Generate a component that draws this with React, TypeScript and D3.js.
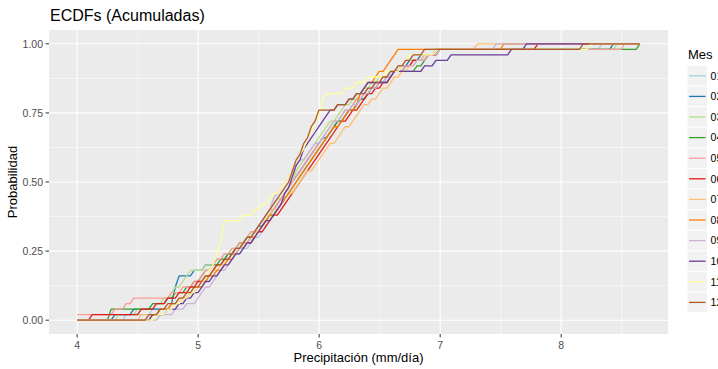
import React from "react";
import * as d3 from "d3";

const months = ["01", "02", "03", "04", "05", "06", "07", "08", "09", "10", "11", "12"];
const colors = ["#A6CEE3", "#1F78B4", "#B2DF8A", "#33A02C", "#FB9A99", "#E31A1C", "#FDBF6F", "#FF7F00", "#CAB2D6", "#6A3D9A", "#FFFF99", "#B15928"];

const m01 = [4.38, 4.62, 4.78, 4.86, 4.93, 4.99, 5.04, 5.09, 5.14, 5.19, 5.24, 5.29, 5.35, 5.41, 5.46, 5.5, 5.54, 5.58, 5.62, 5.65, 5.68, 5.71, 5.74, 5.77, 5.8, 5.83, 5.86, 5.88, 5.91, 5.94, 5.97, 6.0, 6.03, 6.06, 6.1, 6.13, 6.17, 6.21, 6.25, 6.3, 6.35, 6.4, 6.46, 6.52, 6.58, 6.65, 6.74, 6.86, 6.97, 8.33];
const m02 = [4.29, 4.44, 4.78, 4.79, 4.8, 4.81, 4.82, 4.83, 4.95, 5.05, 5.15, 5.23, 5.3, 5.36, 5.41, 5.45, 5.49, 5.53, 5.57, 5.61, 5.64, 5.68, 5.71, 5.74, 5.77, 5.8, 5.83, 5.86, 5.89, 5.92, 5.95, 5.99, 6.02, 6.06, 6.1, 6.14, 6.19, 6.24, 6.29, 6.33, 6.38, 6.43, 6.48, 6.54, 6.6, 6.67, 6.74, 6.83, 6.95, 8.41];
const m03 = [4.33, 4.47, 4.6, 4.7, 4.76, 4.81, 4.85, 4.88, 4.91, 5.06, 5.14, 5.21, 5.27, 5.33, 5.38, 5.43, 5.47, 5.51, 5.55, 5.59, 5.62, 5.65, 5.69, 5.72, 5.75, 5.78, 5.81, 5.84, 5.87, 5.9, 5.93, 5.96, 5.99, 6.02, 6.05, 6.09, 6.13, 6.17, 6.21, 6.26, 6.31, 6.37, 6.43, 6.49, 6.56, 6.63, 6.71, 6.84, 6.96, 8.45];
const m04 = [4.25, 4.27, 4.62, 4.72, 4.8, 4.88, 4.95, 5.01, 5.06, 5.11, 5.16, 5.22, 5.28, 5.34, 5.4, 5.45, 5.5, 5.55, 5.59, 5.63, 5.67, 5.7, 5.73, 5.76, 5.79, 5.82, 5.85, 5.88, 5.91, 5.94, 5.97, 6.0, 6.03, 6.07, 6.11, 6.15, 6.19, 6.23, 6.28, 6.33, 6.38, 6.43, 6.49, 6.55, 6.62, 6.8, 6.85, 6.9, 6.95, 8.65];
const m05 = [4.0, 4.3, 4.4, 4.45, 4.76, 4.86, 4.94, 5.0, 5.05, 5.1, 5.15, 5.21, 5.27, 5.33, 5.38, 5.43, 5.47, 5.51, 5.55, 5.59, 5.63, 5.66, 5.7, 5.73, 5.76, 5.79, 5.82, 5.85, 5.88, 5.91, 5.94, 5.97, 6.0, 6.04, 6.08, 6.12, 6.16, 6.2, 6.25, 6.3, 6.35, 6.41, 6.47, 6.53, 6.6, 6.67, 6.75, 6.87, 6.99, 8.5];
const m06 = [4.11, 4.5, 4.64, 4.74, 4.84, 4.92, 4.99, 5.05, 5.1, 5.15, 5.21, 5.27, 5.33, 5.39, 5.44, 5.49, 5.53, 5.58, 5.62, 5.66, 5.7, 5.73, 5.76, 5.79, 5.82, 5.85, 5.88, 5.91, 5.94, 5.97, 6.0, 6.03, 6.06, 6.1, 6.14, 6.18, 6.22, 6.26, 6.31, 6.35, 6.4, 6.45, 6.5, 6.56, 6.62, 6.69, 6.77, 6.88, 6.99, 7.79];
const m07 = [4.52, 4.66, 4.76, 4.84, 4.91, 4.97, 5.02, 5.07, 5.12, 5.17, 5.22, 5.27, 5.32, 5.37, 5.42, 5.46, 5.5, 5.54, 5.58, 5.62, 5.66, 5.7, 5.74, 5.78, 5.82, 5.86, 5.9, 5.94, 5.97, 6.01, 6.05, 6.09, 6.13, 6.17, 6.21, 6.25, 6.29, 6.33, 6.37, 6.42, 6.47, 6.52, 6.57, 6.62, 6.67, 6.72, 6.78, 6.86, 6.96, 7.3];
const m08 = [4.6, 4.68, 4.77, 4.85, 4.92, 4.98, 5.04, 5.09, 5.14, 5.19, 5.24, 5.29, 5.34, 5.39, 5.43, 5.47, 5.51, 5.55, 5.59, 5.63, 5.67, 5.71, 5.74, 5.77, 5.8, 5.83, 5.86, 5.89, 5.92, 5.95, 5.98, 6.01, 6.04, 6.08, 6.12, 6.16, 6.2, 6.24, 6.28, 6.31, 6.34, 6.37, 6.4, 6.44, 6.48, 6.55, 6.58, 6.6, 6.63, 7.5];
const m09 = [4.67, 4.8, 4.9, 4.97, 5.02, 5.06, 5.1, 5.14, 5.18, 5.22, 5.26, 5.3, 5.34, 5.38, 5.42, 5.45, 5.48, 5.51, 5.54, 5.57, 5.6, 5.62, 5.65, 5.67, 5.7, 5.73, 5.76, 5.8, 5.84, 5.88, 5.92, 5.96, 6.0, 6.04, 6.08, 6.12, 6.16, 6.21, 6.26, 6.31, 6.36, 6.42, 6.48, 6.55, 6.62, 6.7, 6.78, 6.88, 6.97, 7.46];
const m10 = [4.6, 4.72, 4.82, 4.9, 4.96, 5.01, 5.06, 5.11, 5.16, 5.21, 5.26, 5.31, 5.36, 5.4, 5.44, 5.48, 5.52, 5.56, 5.6, 5.63, 5.66, 5.69, 5.71, 5.73, 5.75, 5.77, 5.79, 5.81, 5.83, 5.85, 5.87, 5.89, 5.92, 5.95, 5.98, 6.01, 6.04, 6.08, 6.15, 6.22, 6.3, 6.36, 6.4, 6.58, 6.62, 6.85, 6.95, 7.07, 7.56, 7.69];
const m11 = [4.64, 4.74, 4.8, 4.86, 4.92, 4.98, 5.02, 5.06, 5.09, 5.11, 5.13, 5.15, 5.17, 5.18, 5.19, 5.2, 5.21, 5.21, 5.36, 5.45, 5.52, 5.58, 5.62, 5.66, 5.69, 5.72, 5.75, 5.78, 5.81, 5.84, 5.86, 5.88, 5.9, 5.92, 5.94, 5.96, 5.98, 6.0, 6.01, 6.02, 6.03, 6.21, 6.3, 6.38, 6.55, 6.68, 6.69, 6.72, 6.96, 8.22];
const m12 = [4.58, 4.66, 4.74, 4.82, 4.89, 4.95, 5.0, 5.05, 5.1, 5.15, 5.2, 5.25, 5.3, 5.35, 5.4, 5.44, 5.48, 5.52, 5.56, 5.59, 5.62, 5.65, 5.68, 5.71, 5.73, 5.75, 5.77, 5.79, 5.81, 5.83, 5.85, 5.87, 5.89, 5.91, 5.93, 5.95, 5.97, 5.98, 6.15, 6.22, 6.3, 6.38, 6.45, 6.52, 6.58, 6.64, 6.7, 6.76, 6.84, 8.18];

const seriesValues = [m01, m02, m03, m04, m05, m06, m07, m08, m09, m10, m11, m12];

const xTicks = [4, 5, 6, 7, 8];
const yTicks = [0, 0.25, 0.5, 0.75, 1];
const yTickLabels = ["0.00", "0.25", "0.50", "0.75", "1.00"];

const W = 718;
const H = 369;
const panel = { left: 49, right: 668, top: 30, bottom: 334 };
const FONT = "'Liberation Sans', Arial, Helvetica, sans-serif";

export default function App() {
  const all = seriesValues.flat();
  const xmin = d3.min(all) as number;
  const xmax = d3.max(all) as number;
  const xr = xmax - xmin;
  const x = d3.scaleLinear().domain([xmin - 0.05 * xr, xmax + 0.05 * xr]).range([panel.left, panel.right]);
  const y = d3.scaleLinear().domain([-0.05, 1.05]).range([panel.bottom, panel.top]);

  const nGrid = 150;
  const grid = d3.range(nGrid).map((i) => xmin + (xr * i) / (nGrid - 1));

  const line = d3
    .line<[number, number]>()
    .x((d) => x(d[0]))
    .y((d) => y(d[1]));

  const paths = seriesValues.map((vals) => {
    const s = [...vals].sort((a, b) => a - b);
    const pts: [number, number][] = grid.map((g) => [g, d3.bisectRight(s, g + 1e-9) / s.length]);
    return line(pts) as string;
  });

  const xMinor = [3.5, 4.5, 5.5, 6.5, 7.5, 8.5];
  const yMinor = [0.125, 0.375, 0.625, 0.875];

  const legendTop = 65.5;
  const keyH = 20.6;
  const keyX = 687;
  const keyW = 20.6;

  return (
    <svg width={W} height={H} style={{ position: "absolute", left: 0, top: 0, display: "block" }} fontFamily={FONT}>
      <rect x={0} y={0} width={W} height={H} fill="#ffffff" />
      <defs>
        <clipPath id="pclip">
          <rect x={panel.left} y={panel.top} width={panel.right - panel.left} height={panel.bottom - panel.top} />
        </clipPath>
      </defs>
      <rect x={panel.left} y={panel.top} width={panel.right - panel.left} height={panel.bottom - panel.top} fill="#EBEBEB" />
      <g clipPath="url(#pclip)">
        {xMinor.map((v) => (
          <line key={"xm" + v} x1={x(v)} x2={x(v)} y1={panel.top} y2={panel.bottom} stroke="#fff" strokeWidth={0.55} />
        ))}
        {yMinor.map((v) => (
          <line key={"ym" + v} x1={panel.left} x2={panel.right} y1={y(v)} y2={y(v)} stroke="#fff" strokeWidth={0.55} />
        ))}
        {xTicks.map((v) => (
          <line key={"xg" + v} x1={x(v)} x2={x(v)} y1={panel.top} y2={panel.bottom} stroke="#fff" strokeWidth={1.1} />
        ))}
        {yTicks.map((v) => (
          <line key={"yg" + v} x1={panel.left} x2={panel.right} y1={y(v)} y2={y(v)} stroke="#fff" strokeWidth={1.1} />
        ))}
        {paths.map((p, i) => (
          <path key={"s" + i} d={p} fill="none" stroke={colors[i]} strokeWidth={1.3} strokeLinejoin="round" />
        ))}
      </g>
      {xTicks.map((v) => (
        <g key={"xt" + v}>
          <line x1={x(v)} x2={x(v)} y1={panel.bottom} y2={panel.bottom + 3.5} stroke="#333" strokeWidth={1} />
          <text x={x(v)} y={panel.bottom + 14.5} textAnchor="middle" fontSize={10.5} fill="#4D4D4D">
            {v}
          </text>
        </g>
      ))}
      {yTicks.map((v, i) => (
        <g key={"yt" + v}>
          <line x1={panel.left - 3.5} x2={panel.left} y1={y(v)} y2={y(v)} stroke="#333" strokeWidth={1} />
          <text x={panel.left - 6} y={y(v) + 3.7} textAnchor="end" fontSize={10.5} fill="#4D4D4D">
            {yTickLabels[i]}
          </text>
        </g>
      ))}
      <text x={50} y={20.5} fontSize={16} fill="#000">
        ECDFs (Acumuladas)
      </text>
      <text x={(panel.left + panel.right) / 2} y={362} textAnchor="middle" fontSize={13} fill="#000">
        Precipitación (mm/día)
      </text>
      <text transform={`translate(17,${(panel.top + panel.bottom) / 2}) rotate(-90)`} textAnchor="middle" fontSize={13} fill="#000">
        Probabilidad
      </text>
      <text x={688} y={59} fontSize={13} fill="#000">
        Mes
      </text>
      {months.map((m, i) => {
        const ky = legendTop + i * keyH;
        return (
          <g key={"lg" + m}>
            <rect x={keyX} y={ky} width={keyW} height={keyH} fill="#F2F2F2" stroke="#fff" strokeWidth={1} />
            <line x1={keyX + 2} x2={keyX + keyW - 2} y1={ky + keyH / 2} y2={ky + keyH / 2} stroke={colors[i]} strokeWidth={1.3} />
            <text x={keyX + keyW + 3} y={ky + keyH / 2 + 3.8} fontSize={10.5} fill="#000">
              {m}
            </text>
          </g>
        );
      })}
    </svg>
  );
}
